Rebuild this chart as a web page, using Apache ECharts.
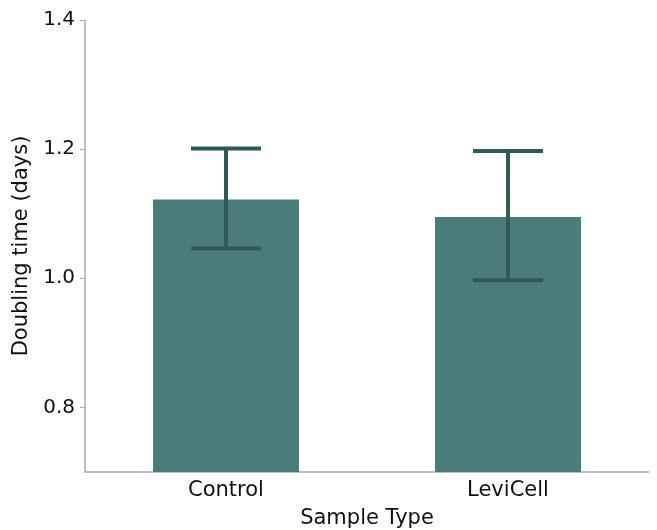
<!DOCTYPE html>
<html>
<head>
<meta charset="utf-8">
<script src="https://cdn.jsdelivr.net/npm/echarts@6/dist/echarts.min.js"></script>
<style>html,body{margin:0;padding:0;background:#fff}#c{width:657px;height:530px}</style>
</head>
<body>
<div id="c"></div>
<script>
var categories = ['Control', 'LeviCell'];
var means = [1.122, 1.095];
var errLow = [1.046, 0.997];
var errHigh = [1.201, 1.197];
var yTicks = [0.8, 1.0, 1.2, 1.4];

var chart = echarts.init(document.getElementById('c'));
var font = 'DejaVu Sans';
chart.setOption({
  animation: false,
  grid: {left: 85, right: 8, top: 20, bottom: 58, containLabel: false, outerBoundsMode: 'none'},
  xAxis: {
    type: 'category',
    data: categories,
    name: 'Sample Type',
    nameLocation: 'middle',
    nameGap: 36,
    nameTextStyle: {fontFamily: font, fontSize: 21, color: '#111'},
    axisLine: {lineStyle: {color: '#aaaaaa', width: 1.5}},
    axisTick: {show: false},
    axisLabel: {fontFamily: font, fontSize: 21, color: '#111', margin: 8}
  },
  yAxis: {
    type: 'value',
    min: 0.7,
    max: 1.4,
    interval: 0.1,
    name: 'Doubling time (days)',
    nameLocation: 'middle',
    nameGap: 47,
    nameTextStyle: {fontFamily: font, fontSize: 21, color: '#111'},
    axisLine: {show: true, lineStyle: {color: '#aaaaaa', width: 1.5}},
    axisTick: {show: true, length: 5, lineStyle: {color: '#aaaaaa'},
      customValues: yTicks},
    splitLine: {show: false},
    axisLabel: {fontFamily: font, fontSize: 20, color: '#111', margin: 10,
      customValues: yTicks,
      formatter: function (v) { return v.toFixed(1); }}
  },
  series: [
    {
      type: 'bar',
      data: means,
      barWidth: 146,
      itemStyle: {color: '#4a7c7b'},
      z: 2
    },
    {
      type: 'custom',
      z: 3,
      data: categories.map(function (c, i) { return [i, errLow[i], errHigh[i]]; }),
      renderItem: function (params, api) {
        var x = api.coord([api.value(0), api.value(1)])[0];
        var lo = api.coord([api.value(0), api.value(1)])[1];
        var hi = api.coord([api.value(0), api.value(2)])[1];
        var hw = 35;
        var st = {stroke: '#2f5a59', lineWidth: 4};
        return {
          type: 'group',
          children: [
            {type: 'line', shape: {x1: x, y1: hi, x2: x, y2: lo}, style: st},
            {type: 'line', shape: {x1: x - hw, y1: hi, x2: x + hw, y2: hi}, style: st},
            {type: 'line', shape: {x1: x - hw, y1: lo, x2: x + hw, y2: lo}, style: st}
          ]
        };
      }
    }
  ]
});
</script>
</body>
</html>
